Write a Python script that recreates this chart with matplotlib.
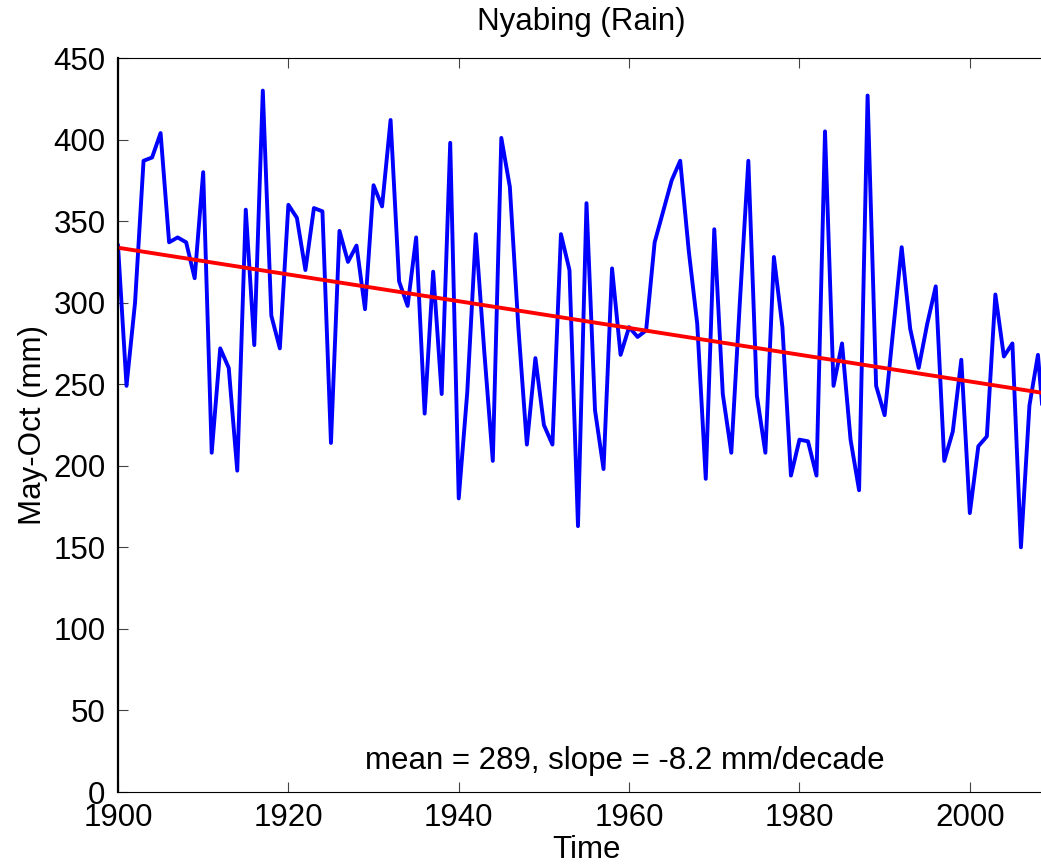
import numpy as np
import matplotlib.pyplot as plt

plt.rcParams["font.family"] = ["Liberation Sans", "DejaVu Sans"]

# May-Oct rainfall totals at Nyabing
years = np.arange(1900, 2010)
rain = [
    335, 249, 300, 387, 389, 404, 337, 340, 337, 315,
    380, 208, 272, 260, 197, 357, 274, 430, 292, 272,
    360, 352, 320, 358, 356, 214, 344, 325, 335, 296,
    372, 359, 412, 313, 298, 340, 232, 319, 244, 398,
    180, 245, 342, 270, 203, 401, 371, 285, 213, 266,
    225, 213, 342, 320, 163, 361, 234, 198, 321, 268,
    285, 279, 283, 337, 356, 375, 387, 332, 287, 192,
    345, 244, 208, 300, 387, 243, 208, 328, 285, 194,
    216, 215, 194, 405, 249, 275, 216, 185, 427, 249,
    231, 283, 334, 284, 260, 287, 310, 203, 221, 265,
    171, 212, 218, 305, 267, 275, 150, 237, 268, 205,
]

mean_val = 289      # mm
slope_decade = -8.2  # mm/decade

trend = mean_val + slope_decade / 10 * (years - years.mean())

FS = 22.5

fig = plt.figure(figsize=(10.41, 8.68), dpi=100)
ax = fig.add_axes([118 / 1041, 1 - 792 / 868, (1055 - 118) / 1041, (792 - 58) / 868])

ax.plot(years, rain, color="#0000ff", lw=2.8, solid_joinstyle="round")
ax.plot(years, trend, color="#ff0000", lw=2.8)

ax.set_xlim(1900, 2010)
ax.set_ylim(0, 450)
ax.set_xticks(np.arange(1900, 2001, 20))
ax.set_yticks(np.arange(0, 451, 50))
ax.tick_params(direction="in", length=7, width=0.8, color="#444444",
               labelsize=FS, top=True, right=True)
ax.tick_params(axis="x", pad=8)
ax.tick_params(axis="y", pad=9)
ax.spines["right"].set_visible(False)
ax.spines["left"].set_linestyle((0, (1, 1)))
ax.spines["left"].set_linewidth(1.6)

ax.set_title("Nyabing (Rain)", fontsize=FS, pad=20, x=(581 - 118) / (1055 - 118))
ax.set_xlabel("Time", fontsize=FS, labelpad=1)
ax.set_ylabel("May-Oct (mm)", fontsize=FS, labelpad=4)

ax.text(1959.5, 19, f"mean = {mean_val}, slope = {slope_decade} mm/decade",
        fontsize=FS, ha="center", va="center")

fig.savefig("out.png", dpi=100)
